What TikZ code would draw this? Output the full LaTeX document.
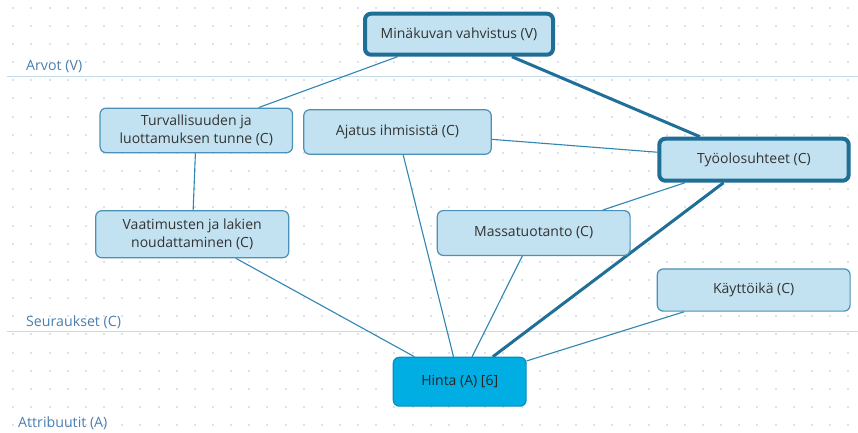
\documentclass[tikz,border=0pt]{standalone}
\usepackage{fontspec}
\setmainfont{Open Sans}
\usetikzlibrary{backgrounds}
\definecolor{nodefill}{HTML}{C3E2F1}
\definecolor{nodeedge}{HTML}{4A90B8}
\definecolor{thickedge}{HTML}{1E6E96}
\definecolor{attrfill}{HTML}{00AEE4}
\definecolor{attredge}{HTML}{0A8CC0}
\definecolor{linkcol}{HTML}{2F86B3}
\definecolor{linkthick}{HTML}{1F6F99}
\definecolor{dotcol}{HTML}{DCE2E7}
\definecolor{sepcol}{HTML}{C5DCEA}
\definecolor{levelcol}{HTML}{4A7FAE}
\definecolor{txtcol}{HTML}{333333}
\tikzset{
  concept/.style={draw=nodeedge, fill=nodefill, line width=1.2pt, rounded corners=6pt,
    text=txtcol, font=\fontsize{14}{18}\selectfont, align=center, inner sep=0pt},
  keyconcept/.style={concept, draw=thickedge, line width=4pt},
  attrnode/.style={concept, draw=attredge, fill=attrfill, text=black!85},
  link/.style={draw=linkcol, line width=1.1pt},
  thicklink/.style={draw=linkthick, line width=3pt},
  levellabel/.style={text=levelcol, font=\fontsize{14.2}{16}\selectfont, anchor=west, inner sep=0pt},
  sepline/.style={draw=sepcol, line width=1pt}
}
\begin{document}
\begin{tikzpicture}[x=1pt,y=-1pt]
\useasboundingbox (0,0) rectangle (858,432);

% nodes
\node[keyconcept, minimum width=188pt, minimum height=41pt] (min) at (459,34.2) {Minäkuvan vahvistus (V)};
\node[concept, minimum width=192.5pt, minimum height=44.5pt] (turv) at (196.3,130.4) {Turvallisuuden ja\\luottamuksen tunne (C)};
\node[concept, minimum width=187.5pt, minimum height=44.5pt] (ajat) at (397.5,132) {Ajatus ihmisistä (C)};
\node[keyconcept, minimum width=189.4pt, minimum height=42pt] (tyo) at (754,159.7) {Työolosuhteet (C)};
\node[concept, minimum width=193pt, minimum height=47pt] (vaat) at (192.2,234.2) {Vaatimusten ja lakien\\noudattaminen (C)};
\node[concept, minimum width=192.8pt, minimum height=44.8pt] (mass) at (533.7,233) {Massatuotanto (C)};
\node[concept, minimum width=192.8pt, minimum height=42.2pt] (kayt) at (753.7,290) {Käyttöikä (C)};
\node[attrnode, minimum width=132.8pt, minimum height=48.8pt] (hinta) at (459.7,381.7) {Hinta (A) [6]};

% level labels
\node[levellabel] (lv) at (26,67) {Arvot (V)};
\node[levellabel] (lc) at (26,322) {Seuraukset (C)};
\node[levellabel] (la) at (18,423) {Attribuutit (A)};

\begin{scope}[on background layer]
  \fill[white] (0,0) rectangle (858,432);
  % dot grid
  \foreach \i in {0,...,46} {
    \foreach \j in {0,...,23} {
      \fill[dotcol] (13.3+18.15*\i-1,7.7+18.15*\j-1) rectangle ++(2,2);
    }
  }
  \coordinate (s1a) at (7,76.7);
  \coordinate (s1b) at (858,76.7);
  \coordinate (s2a) at (7,331);
  \coordinate (s2b) at (858,331);
  \draw[sepline] (s1a) -- (s1b);
  \draw[sepline] (s2a) -- (s2b);
  % links
  \draw[link] (min) -- (turv);
  \draw[thicklink] (min) -- (tyo);
  \draw[link] (turv) -- (vaat);
  \draw[link] (ajat) -- (tyo);
  \draw[link] (ajat) -- (hinta);
  \draw[link] (tyo) -- (mass);
  \draw[thicklink] (tyo) -- (hinta);
  \draw[link] (vaat) -- (hinta);
  \draw[link] (mass) -- (hinta);
  \draw[link] (kayt) -- (hinta);
\end{scope}
\end{tikzpicture}
\end{document}
